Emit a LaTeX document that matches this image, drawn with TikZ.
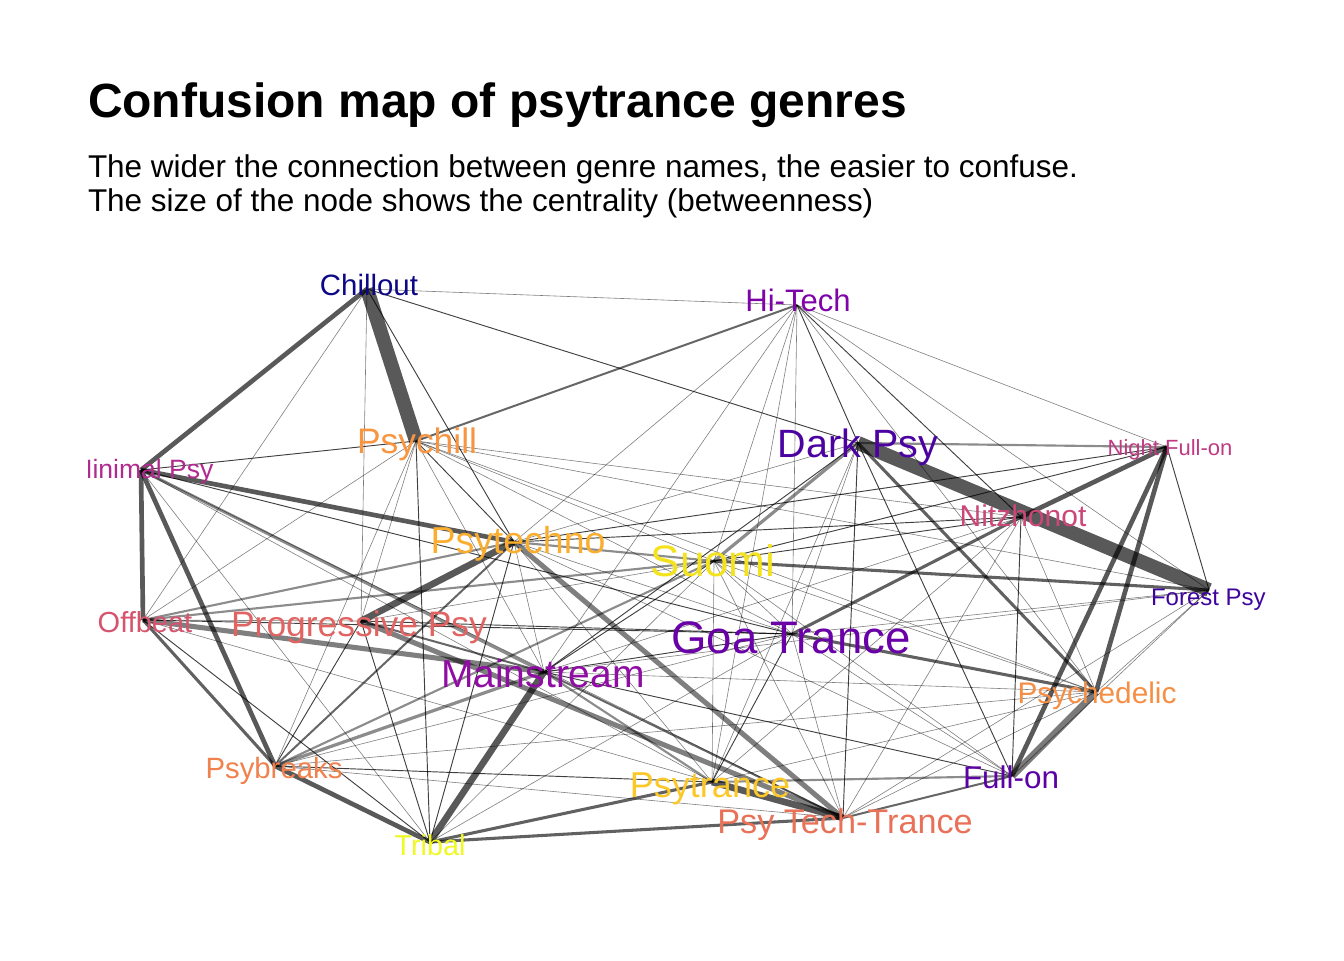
\documentclass[tikz,border=0pt]{standalone}
\usepackage{fontspec}
\setmainfont{Liberation Sans}
\usetikzlibrary{calc}
\definecolor{cCH}{HTML}{0D0887}
\definecolor{cHT}{HTML}{7E03A8}
\definecolor{cPC}{HTML}{F89540}
\definecolor{cMP}{HTML}{B12A90}
\definecolor{cPT}{HTML}{FBAE2E}
\definecolor{cSU}{HTML}{F4E21F}
\definecolor{cDP}{HTML}{4C02A1}
\definecolor{cNF}{HTML}{C03A83}
\definecolor{cNZ}{HTML}{CC4778}
\definecolor{cFP}{HTML}{3E049C}
\definecolor{cOB}{HTML}{D5546E}
\definecolor{cPP}{HTML}{E16462}
\definecolor{cMS}{HTML}{900DA4}
\definecolor{cGT}{HTML}{6A00A8}
\definecolor{cPD}{HTML}{F68F44}
\definecolor{cPB}{HTML}{F1814D}
\definecolor{cTR}{HTML}{F0F921}
\definecolor{cPY}{HTML}{FCC827}
\definecolor{cTT}{HTML}{E97158}
\definecolor{cFO}{HTML}{5B01A5}
\newcommand\E[3]{\draw[#1] (#2) -- (#3);}
\newcommand\lbl[6]{\node[lab,anchor=base,text=#5] (#1) at (#2,#3) {\fontsize{#4}{#4}\selectfont #6};}
\begin{document}
\begin{tikzpicture}[x=0.75pt,y=-0.75pt,
  lab/.style={inner sep=0pt,outer sep=0pt},
  ew0/.style={draw=black,line width=0.45pt,draw opacity=0.5},
  ew1/.style={draw=black,line width=0.7pt,draw opacity=0.75},
  ew2/.style={draw=black,line width=1.5pt,draw opacity=0.6},
  ew2l/.style={draw=black,line width=1.6pt,draw opacity=0.45},
  ew3/.style={draw=black,line width=2.3pt,draw opacity=0.62},
  ew3l/.style={draw=black,line width=2.4pt,draw opacity=0.45},
  ew4/.style={draw=black,line width=3.5pt,draw opacity=0.65},
  ew4l/.style={draw=black,line width=3.8pt,draw opacity=0.5},
  ew5/.style={draw=black,line width=5pt,draw opacity=0.65},
  ew5l/.style={draw=black,line width=5.3pt,draw opacity=0.52},
  ew6/.style={draw=black,line width=10.5pt,draw opacity=0.65}]
\useasboundingbox (0,0) rectangle (1344,960);
\fill[white] (0,0) rectangle (1344,960);
% title
\node[lab,anchor=base west] (title) at (88,117) {\fontsize{36}{36}\selectfont\bfseries Confusion map of psytrance genres};
\node[lab,anchor=base west] (sub1) at (88,177) {\fontsize{23.6}{23.6}\selectfont The wider the connection between genre names, the easier to confuse.};
\node[lab,anchor=base west] (sub2) at (88,211) {\fontsize{23.6}{23.6}\selectfont The size of the node shows the centrality (betweenness)};
% graph nodes
\coordinate (CH) at (367,289);
\coordinate (HT) at (797,305);
\coordinate (PC) at (416,441);
\coordinate (MP) at (141,470);
\coordinate (PT) at (514,542);
\coordinate (SU) at (714,561);
\coordinate (DP) at (858,443);
\coordinate (NF) at (1167,447);
\coordinate (NZ) at (1021,517);
\coordinate (FP) at (1209,590);
\coordinate (OB) at (143,620);
\coordinate (PP) at (361,621);
\coordinate (MS) at (544,672);
\coordinate (GT) at (792,634);
\coordinate (PD) at (1096,692);
\coordinate (PB) at (275,766);
\coordinate (TR) at (430,842);
\coordinate (PY) at (712,782);
\coordinate (TT) at (843,818);
\coordinate (FO) at (1012,776);
\begin{scope}
\clip (88,240) rectangle (1265,900);
% light thin edges
\E{ew0}{CH}{HT}\E{ew0}{CH}{PP}\E{ew0}{CH}{OB}
\E{ew0}{HT}{NF}\E{ew0}{HT}{FP}\E{ew0}{HT}{PD}\E{ew0}{HT}{SU}\E{ew0}{HT}{PT}
\E{ew0}{HT}{MS}\E{ew0}{HT}{GT}\E{ew0}{HT}{PY}
\E{ew0}{PC}{FP}\E{ew0}{PC}{NZ}\E{ew0}{PC}{SU}\E{ew0}{PC}{GT}\E{ew0}{PC}{PD}
\E{ew0}{PC}{MS}\E{ew0}{PC}{PB}\E{ew0}{PC}{OB}\E{ew0}{PC}{PP}
\E{ew0}{MP}{TR}\E{ew0}{MP}{TT}\E{ew0}{MP}{PY}
\E{ew0}{OB}{PY}\E{ew0}{OB}{PP}\E{ew0}{PP}{SU}
\E{ew0}{PT}{GT}\E{ew0}{PT}{DP}\E{ew0}{PT}{PY}\E{ew0}{PT}{FO}\E{ew0}{PT}{MS}
\E{ew0}{SU}{GT}\E{ew0}{SU}{PY}\E{ew0}{SU}{TT}\E{ew0}{SU}{FO}\E{ew0}{SU}{PD}
\E{ew0}{DP}{GT}\E{ew0}{DP}{PY}
\E{ew0}{NZ}{PD}\E{ew0}{NZ}{TT}\E{ew0}{NZ}{PY}\E{ew0}{NZ}{MS}
\E{ew0}{FP}{PD}\E{ew0}{FP}{FO}\E{ew0}{FP}{GT}\E{ew0}{FP}{MS}
\E{ew0}{GT}{TT}\E{ew0}{GT}{FO}\E{ew0}{GT}{TR}\E{ew0}{GT}{PB}
\E{ew0}{PY}{PD}\E{ew0}{TT}{PD}\E{ew0}{TT}{FP}\E{ew0}{PD}{MS}
\E{ew0}{PB}{TT}\E{ew0}{TR}{SU}\E{ew0}{PD}{PB}
% dark thin edges
\E{ew1}{CH}{DP}\E{ew1}{CH}{PT}\E{ew1}{HT}{DP}\E{ew1}{HT}{NZ}
\E{ew1}{MP}{PC}\E{ew1}{MP}{GT}\E{ew1}{PC}{TR}\E{ew1}{PC}{PT}
\E{ew1}{OB}{GT}\E{ew1}{OB}{TR}\E{ew1}{PP}{GT}\E{ew1}{PP}{TR}\E{ew1}{PT}{TR}
\E{ew1}{GT}{PY}\E{ew1}{DP}{FO}\E{ew1}{DP}{TT}\E{ew1}{NZ}{FO}\E{ew1}{NF}{FP}
\E{ew1}{NF}{SU}\E{ew1}{NF}{PT}\E{ew1}{SU}{NZ}\E{ew1}{MS}{FO}\E{ew1}{PB}{PY}
\E{ew1}{PP}{PB}\E{ew1}{SU}{MS}\E{ew1}{GT}{MS}\E{ew1}{DP}{MS}\E{ew1}{PT}{NZ}
% medium edges
\E{ew2}{PC}{HT}\E{ew2}{PB}{PT}\E{ew2}{FO}{TT}\E{ew2}{MS}{TT}\E{ew2}{PP}{MS}
\E{ew2l}{OB}{PT}\E{ew2l}{OB}{SU}\E{ew2l}{SU}{PB}\E{ew2l}{DP}{NF}\E{ew2l}{FO}{PY}
\E{ew2l}{MS}{PY}\E{ew2l}{PT}{SU}
\E{ew3}{DP}{PD}\E{ew3}{SU}{FP}\E{ew3}{GT}{NZ}\E{ew3}{GT}{PD}\E{ew3}{TR}{TT}
\E{ew3}{PY}{TR}\E{ew3}{OB}{PB}
\E{ew3l}{DP}{SU}\E{ew3l}{MS}{PB}\E{ew3l}{MP}{MS}
% thick edges
\E{ew4}{CH}{MP}\E{ew4}{MP}{PT}\E{ew4}{MP}{OB}\E{ew4}{NF}{FO}\E{ew4}{NF}{PD}
\E{ew4}{MP}{PB}\E{ew4}{PB}{TR}\E{ew4}{NF}{NZ}
\E{ew4l}{OB}{MS}\E{ew4l}{PT}{TT}\E{ew4l}{PP}{TT}
\E{ew5}{PT}{PP}\E{ew5}{PY}{TT}\E{ew5}{MS}{TR}
\E{ew5l}{FO}{PD}
\E{ew6}{CH}{PC}\E{ew6}{DP}{FP}
% labels
\lbl{lCH}{369}{295}{22.05}{cCH}{Chillout}
\lbl{lHT}{798}{311}{23.3}{cHT}{Hi-Tech}
\lbl{lPC}{417}{453}{26.55}{cPC}{Psychill}
\lbl{lMP}{142}{478}{19.9}{cMP}{Minimal Psy}
\lbl{lPT}{518}{553}{28.1}{cPT}{Psytechno}
\lbl{lSU}{713}{576}{33}{cSU}{Suomi}
\lbl{lDP}{858}{457}{29.6}{cDP}{Dark Psy}
\lbl{lNF}{1170}{455}{16.5}{cNF}{Night Full-on}
\lbl{lNZ}{1023}{526}{22.5}{cNZ}{Nitzhonot}
\node[lab,anchor=base west,text=cFP] (lFP) at (1151,605) {\fontsize{18}{18}\selectfont Forest Psy};
\lbl{lOB}{145}{632}{21.75}{cOB}{Offbeat}
\lbl{lPP}{359}{636}{26.55}{cPP}{Progressive Psy}
\lbl{lMS}{543}{687}{29.25}{cMS}{Mainstream}
\lbl{lGT}{791}{653}{34.2}{cGT}{Goa Trance}
\lbl{lPD}{1097}{703}{22.35}{cPD}{Psychedelic}
\lbl{lPB}{274}{778}{22}{cPB}{Psybreaks}
\lbl{lTR}{430}{855}{21.6}{cTR}{Tribal}
\lbl{lPY}{710}{797}{27}{cPY}{Psytrance}
\lbl{lTT}{845}{833}{25.65}{cTT}{Psy Tech-Trance}
\lbl{lFO}{1011}{788}{23.55}{cFO}{Full-on}
\end{scope}
\end{tikzpicture}
\end{document}
